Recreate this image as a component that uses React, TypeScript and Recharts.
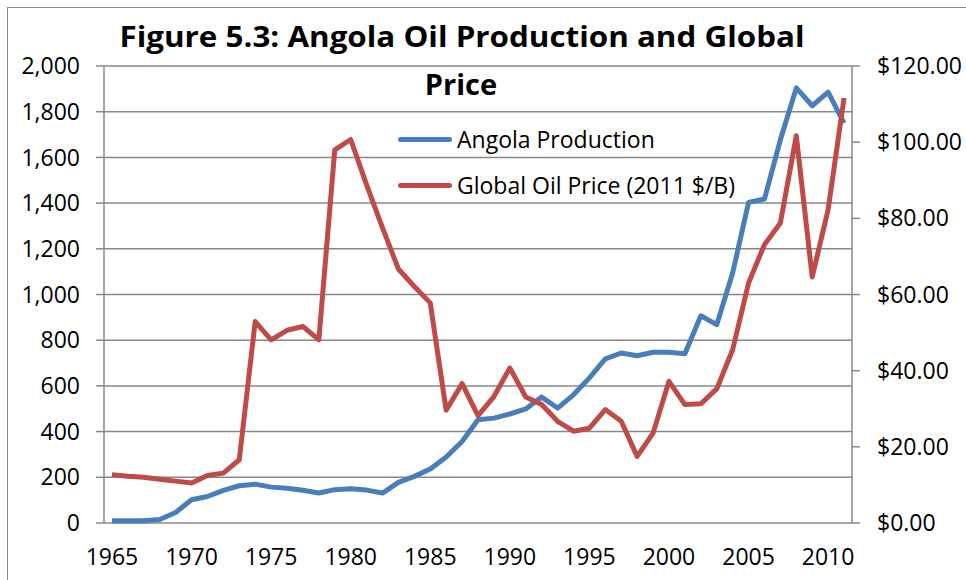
import { LineChart, Line, XAxis, YAxis, CartesianGrid, Legend } from "recharts";

// Angola oil production (thousand b/d) and global oil price (2011 $/B), 1965–2011
const years = [
  1965, 1966, 1967, 1968, 1969, 1970, 1971, 1972, 1973, 1974, 1975, 1976, 1977, 1978, 1979, 1980,
  1981, 1982, 1983, 1984, 1985, 1986, 1987, 1988, 1989, 1990, 1991, 1992, 1993, 1994, 1995, 1996,
  1997, 1998, 1999, 2000, 2001, 2002, 2003, 2004, 2005, 2006, 2007, 2008, 2009, 2010, 2011,
];
const production = [
  10, 10, 10, 15, 46, 102, 116, 143, 163, 170, 157, 152, 143, 131, 146, 150,
  144, 131, 178, 204, 236, 289, 357, 452, 459, 477, 499, 551, 503, 561, 635, 718,
  744, 732, 747, 747, 741, 907, 868, 1094, 1403, 1418, 1677, 1904, 1826, 1886, 1750,
];
const oilPrice = [
  12.7, 12.3, 12.0, 11.5, 11.0, 10.5, 12.5, 13.1, 16.6, 52.9, 48.1, 50.6, 51.6, 48.1, 98.0, 100.7,
  88.8, 77.5, 66.7, 62.1, 57.8, 29.6, 36.6, 28.2, 33.2, 40.7, 33.1, 31.1, 26.7, 24.1, 24.9, 29.8,
  26.7, 17.5, 23.6, 37.2, 31.1, 31.3, 35.2, 45.5, 63.0, 73.1, 78.8, 101.7, 64.6, 82.3, 111.6,
];
const leftTicks = [0, 200, 400, 600, 800, 1000, 1200, 1400, 1600, 1800, 2000];
const rightTicks = [0, 20, 40, 60, 80, 100, 120];
const yearLabels = [1965, 1970, 1975, 1980, 1985, 1990, 1995, 2000, 2005, 2010];

const data = years.map((year, i) => ({ year, production: production[i], price: oilPrice[i] }));
// tick marks sit between categories, like the Excel original
const tickMarks = [...years.map((y) => y - 0.5), years[years.length - 1] + 0.5];
const xDomain: [number, number] = [years[0] - 0.5, years[years.length - 1] + 0.5];

const GRAY = "#888888";
const FONT = '"Open Sans", sans-serif';
const tickStyle = { fill: "#000000", fontSize: 23, fontFamily: FONT };

function LegendBox({ payload }: any) {
  return (
    <div style={{ fontFamily: FONT, fontSize: 23, color: "#000" }}>
      {(payload || []).map((p: any) => (
        <div key={p.value} style={{ display: "flex", alignItems: "center", height: 46 }}>
          <span
            style={{
              display: "inline-block",
              width: 54,
              height: 5,
              borderRadius: 3,
              background: p.color,
              marginRight: 5,
            }}
          />
          <span>{p.value}</span>
        </div>
      ))}
    </div>
  );
}

export default function App() {
  return (
    <div
      style={{
        position: "absolute",
        left: 0,
        top: 0,
        width: 966,
        height: 580,
        overflow: "hidden",
        background: "#ffffff",
      }}
    >
      <div
        style={{
          position: "absolute",
          left: 7,
          top: 7,
          width: 970,
          height: 590,
          borderTop: `1.5px solid ${GRAY}`,
          borderLeft: `1.5px solid ${GRAY}`,
        }}
      />
      <LineChart width={966} height={580} data={data} margin={{ top: 66, right: 0, bottom: 0, left: 0 }}>
        <CartesianGrid
          xAxisId="labels"
          yAxisId="left"
          vertical={false}
          stroke={GRAY}
          strokeWidth={1.5}
        />
        <XAxis
          xAxisId="marks"
          type="number"
          domain={xDomain}
          ticks={tickMarks}
          interval={0}
          tickFormatter={() => ""}
          tickSize={8}
          height={0}
          axisLine={{ stroke: GRAY, strokeWidth: 1.5 }}
          tickLine={{ stroke: GRAY, strokeWidth: 1.5 }}
        />
        <XAxis
          xAxisId="labels"
          type="number"
          dataKey="year"
          domain={xDomain}
          ticks={yearLabels}
          interval={0}
          height={57}
          axisLine={false}
          tickLine={false}
          tickSize={8}
          tickMargin={18}
          tick={tickStyle}
        />
        <YAxis
          yAxisId="left"
          orientation="left"
          width={104}
          domain={[0, 2000]}
          ticks={leftTicks}
          interval={0}
          tickFormatter={(v: number) => v.toLocaleString("en-US")}
          tickSize={8}
          tickMargin={16}
          axisLine={{ stroke: GRAY, strokeWidth: 1.5 }}
          tickLine={{ stroke: GRAY, strokeWidth: 1.5 }}
          tick={tickStyle}
        />
        <YAxis
          yAxisId="right"
          orientation="right"
          width={114}
          domain={[0, 120]}
          ticks={rightTicks}
          interval={0}
          tickFormatter={(v: number) => `$${v.toFixed(2)}`}
          tickSize={8}
          tickMargin={17}
          axisLine={{ stroke: GRAY, strokeWidth: 1.5 }}
          tickLine={{ stroke: GRAY, strokeWidth: 1.5 }}
          tick={tickStyle}
        />
        <Legend
          layout="vertical"
          align="center"
          verticalAlign="middle"
          content={<LegendBox />}
          wrapperStyle={{ left: 398, top: 116, width: 340, height: 92 }}
        />
        <Line
          xAxisId="labels"
          yAxisId="left"
          type="linear"
          dataKey="production"
          name="Angola Production"
          stroke="#4A7EBB"
          strokeWidth={5}
          strokeLinejoin="round"
          dot={false}
          isAnimationActive={false}
        />
        <Line
          xAxisId="labels"
          yAxisId="right"
          type="linear"
          dataKey="price"
          name="Global Oil Price (2011 $/B)"
          stroke="#BE4B48"
          strokeWidth={5}
          strokeLinejoin="round"
          dot={false}
          isAnimationActive={false}
        />
      </LineChart>
      <svg
        width={966}
        height={110}
        style={{ position: "absolute", left: 0, top: 0, pointerEvents: "none" }}
      >
        <text
          x={462}
          y={47}
          textAnchor="middle"
          textLength={685}
          lengthAdjust="spacingAndGlyphs"
          fontFamily={FONT}
          fontWeight={700}
          fontSize={29}
          fill="#000"
        >
          Figure 5.3: Angola Oil Production and Global
        </text>
        <text x={461} y={95} textAnchor="middle" fontFamily={FONT} fontWeight={700} fontSize={29} fill="#000">
          Price
        </text>
      </svg>
    </div>
  );
}
